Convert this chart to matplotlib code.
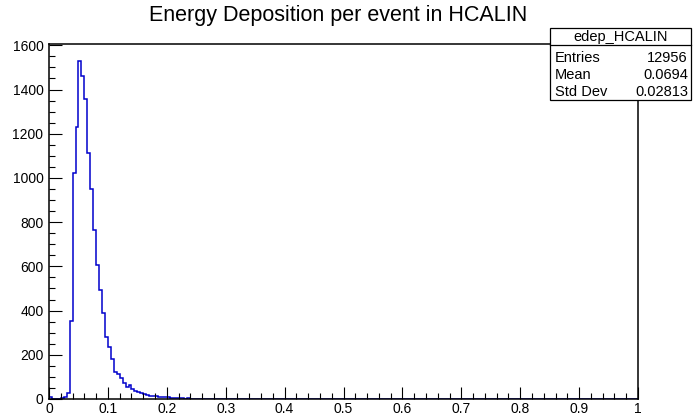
import numpy as np
import matplotlib
matplotlib.use("Agg")
import matplotlib.pyplot as plt
from matplotlib.patches import Rectangle
from matplotlib.ticker import MultipleLocator

plt.rcParams['font.family'] = ['Liberation Sans', 'DejaVu Sans']

# Histogram: 200 bins from 0 to 1 (bin width 0.005); counts
x_min, x_max, n_bins = 0.0, 1.0, 200
counts_start = [8, 1, 1, 1, 3, 8, 25, 351, 1022, 1230,
                1530, 1460, 1355, 1112, 952, 765, 604, 494, 389, 281,
                236, 179, 123, 111, 95, 72, 55, 62, 45, 38,
                30, 26, 22, 18, 15, 12, 12, 9, 8, 8,
                7, 6, 5, 4, 5, 3, 2, 3, 2, 1,
                1]
counts = np.zeros(n_bins)
counts[:len(counts_start)] = counts_start
edges = np.linspace(x_min, x_max, n_bins + 1)

title = "Energy Deposition per event in HCALIN"
hist_name = "edep_HCALIN"
stat_labels = ["Entries", "Mean", "Std Dev"]
stat_values = ["12956", "0.0694", "0.02813"]

W, H = 698, 417
fig = plt.figure(figsize=(W / 100, H / 100), dpi=100)
ax = fig.add_axes([49 / W, 1 - 399 / H, (638 - 49) / W, (399 - 44) / H])

ax.stairs(counts, edges, color='#0000cc', linewidth=1.1, zorder=1)
ax.set_xlim(x_min, x_max)
ax.set_ylim(0, 1606)

ax.xaxis.set_major_locator(MultipleLocator(0.1))
ax.xaxis.set_minor_locator(MultipleLocator(0.02))
ax.yaxis.set_major_locator(MultipleLocator(200))
ax.yaxis.set_minor_locator(MultipleLocator(50))
ax.xaxis.set_major_formatter(plt.FuncFormatter(lambda v, p: f"{v:g}"))
ax.yaxis.set_major_formatter(plt.FuncFormatter(lambda v, p: f"{v:g}"))

ax.tick_params(axis='both', which='both', direction='in', top=False, right=False,
               labelsize=10, color='black', width=0.8)
ax.tick_params(axis='x', which='major', length=9, pad=2)
ax.tick_params(axis='x', which='minor', length=4.5)
ax.tick_params(axis='y', which='major', length=9, pad=4)
ax.tick_params(axis='y', which='minor', length=4.5)
for s in ax.spines.values():
    s.set_linewidth(1.1)

fig.text(338 / W, 1 - 15 / H, title, ha='center', va='center', fontsize=15.5)

# Stats box
bx0, bx1, by0, by1, bsep = 550, 691, 100, 28, 45
box = Rectangle((bx0 / W, 1 - by0 / H), (bx1 - bx0) / W, (by0 - by1) / H,
                transform=fig.transFigure, facecolor='white', edgecolor='black',
                linewidth=0.9, zorder=5)
fig.add_artist(box)
fig.add_artist(plt.Line2D([bx0 / W, bx1 / W], [1 - bsep / H, 1 - bsep / H],
                          transform=fig.transFigure, color='black', linewidth=0.9, zorder=6))
fig.text((bx0 + bx1) / 2 / W, 1 - 36.5 / H, hist_name, ha='center', va='center',
         fontsize=10.5, zorder=7)
for i, (lab, val) in enumerate(zip(stat_labels, stat_values)):
    yy = 1 - (58 + 17 * i) / H
    fig.text(555 / W, yy, lab, ha='left', va='center', fontsize=10.5, zorder=7)
    fig.text(688 / W, yy, val, ha='right', va='center', fontsize=10.5, zorder=7)

fig.savefig("out.png", dpi=100)
